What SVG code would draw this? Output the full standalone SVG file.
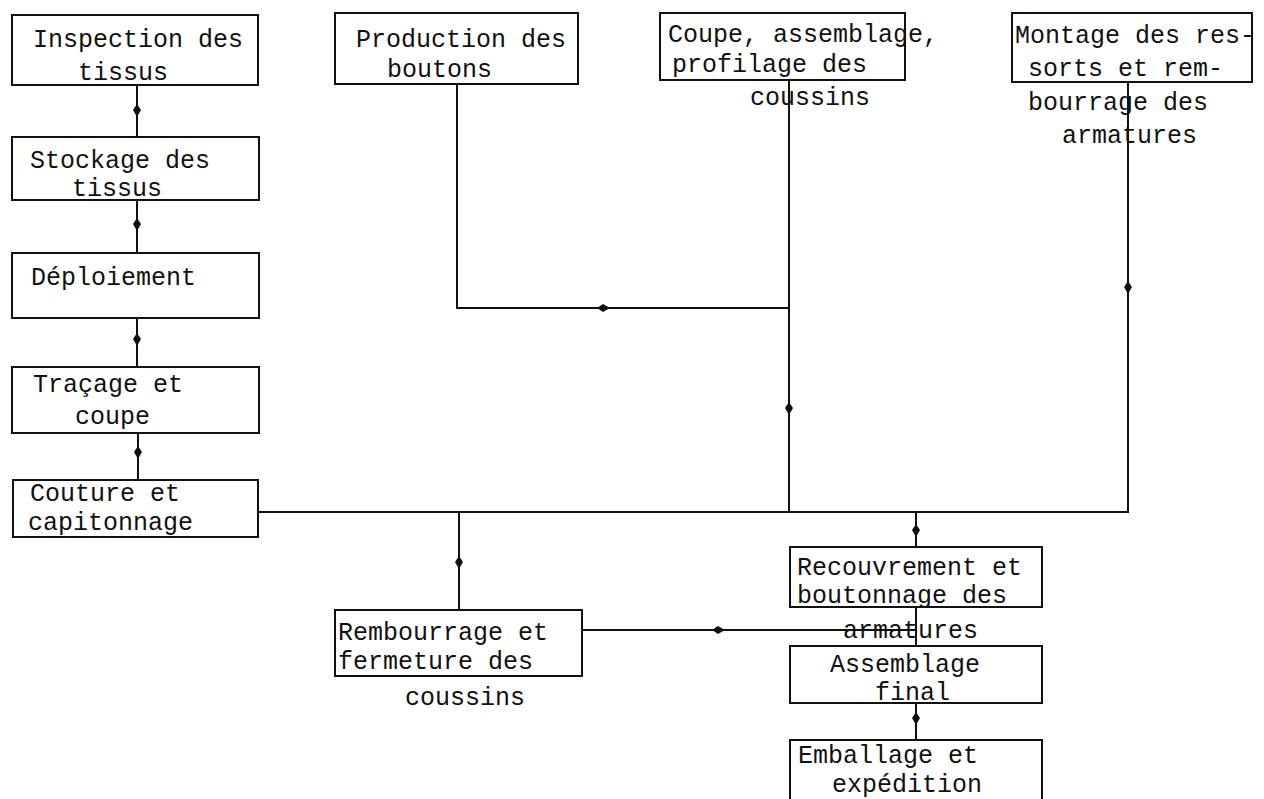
<svg xmlns="http://www.w3.org/2000/svg" xmlns:xlink="http://www.w3.org/1999/xlink" width="1264" height="799" viewBox="0 0 1264 799">
  <style>
    .box { fill: none; stroke: #111; stroke-width: 2; }
    .lbl { font-family: "Liberation Mono", "DejaVu Sans Mono", monospace; font-size: 25px; fill: #111; }
    .wire { fill: none; stroke: #111; stroke-width: 2; }
    .head { fill: #111; }
  </style>
  <defs>
    <!-- small diamond-shaped flow marker, pointing along +x -->
    <path id="ah" class="head" d="M-6,0 L0,-4 L7,0 L0,4 Z"/>
  </defs>
  <rect width="1264" height="799" fill="#fff"/>

  <g id="connectors">
    <!-- left chain -->
    <path class="wire" d="M137,85 V137"/>
    <path class="wire" d="M137,200 V253"/>
    <path class="wire" d="M137,318 V367"/>
    <path class="wire" d="M138,433 V480"/>
    <!-- buttons into the cushion line -->
    <path class="wire" d="M457,84 V308 H789"/>
    <!-- cushion line down to the main bus -->
    <path class="wire" d="M789,80 V512"/>
    <!-- frames line and main bus -->
    <path class="wire" d="M1128,82 V512 H258"/>
    <!-- bus branches -->
    <path class="wire" d="M459,512 V610"/>
    <path class="wire" d="M916,512 V547"/>
    <!-- stuffed cushions to final assembly -->
    <path class="wire" d="M582,630 H916"/>
    <path class="wire" d="M916,607 V646"/>
    <path class="wire" d="M916,703 V740"/>

    <use xlink:href="#ah" transform="translate(137,110) rotate(90)"/>
    <use xlink:href="#ah" transform="translate(137,224) rotate(90)"/>
    <use xlink:href="#ah" transform="translate(137,339) rotate(90)"/>
    <use xlink:href="#ah" transform="translate(138,452) rotate(90)"/>
    <use xlink:href="#ah" transform="translate(603,308)"/>
    <use xlink:href="#ah" transform="translate(789,408) rotate(90)"/>
    <use xlink:href="#ah" transform="translate(1128,287) rotate(90)"/>
    <use xlink:href="#ah" transform="translate(459,562) rotate(90)"/>
    <use xlink:href="#ah" transform="translate(916,530) rotate(90)"/>
    <use xlink:href="#ah" transform="translate(718,630)"/>
    <use xlink:href="#ah" transform="translate(916,718) rotate(90)"/>
  </g>

  <g id="inspection">
    <rect class="box" x="12" y="15" width="246" height="70"/>
    <text class="lbl" x="33" y="47">Inspection des</text>
    <text class="lbl" x="78" y="80">tissus</text>
  </g>

  <g id="stockage">
    <rect class="box" x="12" y="137" width="247" height="63"/>
    <text class="lbl" x="30" y="168">Stockage des</text>
    <text class="lbl" x="72" y="196">tissus</text>
  </g>

  <g id="deploiement">
    <rect class="box" x="12" y="253" width="247" height="65"/>
    <text class="lbl" x="31" y="285">Déploiement</text>
  </g>

  <g id="tracage">
    <rect class="box" x="12" y="367" width="247" height="66"/>
    <text class="lbl" x="33" y="392">Traçage et</text>
    <text class="lbl" x="75" y="424">coupe</text>
  </g>

  <g id="couture">
    <rect class="box" x="13" y="480" width="245" height="57"/>
    <text class="lbl" x="30" y="501">Couture et</text>
    <text class="lbl" x="28" y="530">capitonnage</text>
  </g>

  <g id="boutons">
    <rect class="box" x="335" y="13" width="243" height="71"/>
    <text class="lbl" x="356" y="47">Production des</text>
    <text class="lbl" x="387" y="77">boutons</text>
  </g>

  <g id="coussins">
    <rect class="box" x="660" y="13" width="245" height="67"/>
    <text class="lbl" x="668" y="42">Coupe, assemblage,</text>
    <text class="lbl" x="672" y="72">profilage des</text>
    <text class="lbl" x="750" y="105">coussins</text>
  </g>

  <g id="armatures">
    <rect class="box" x="1012" y="13" width="240" height="69"/>
    <text class="lbl" x="1015" y="43">Montage des res-</text>
    <text class="lbl" x="1028" y="76">sorts et rem-</text>
    <text class="lbl" x="1028" y="110">bourrage des</text>
    <text class="lbl" x="1062" y="143">armatures</text>
  </g>

  <g id="rembourrage">
    <rect class="box" x="335" y="610" width="247" height="66"/>
    <text class="lbl" x="338" y="640">Rembourrage et</text>
    <text class="lbl" x="338" y="669">fermeture des</text>
    <text class="lbl" x="405" y="705">coussins</text>
  </g>

  <g id="recouvrement">
    <rect class="box" x="790" y="547" width="252" height="60"/>
    <text class="lbl" x="797" y="575">Recouvrement et</text>
    <text class="lbl" x="797" y="603">boutonnage des</text>
    <text class="lbl" x="843" y="638">armatures</text>
  </g>

  <g id="assemblage">
    <rect class="box" x="790" y="646" width="252" height="57"/>
    <text class="lbl" x="830" y="672">Assemblage</text>
    <text class="lbl" x="875" y="700">final</text>
  </g>

  <g id="emballage">
    <rect class="box" x="790" y="740" width="252" height="70"/>
    <text class="lbl" x="798" y="763">Emballage et</text>
    <text class="lbl" x="832" y="792">expédition</text>
  </g>
</svg>
